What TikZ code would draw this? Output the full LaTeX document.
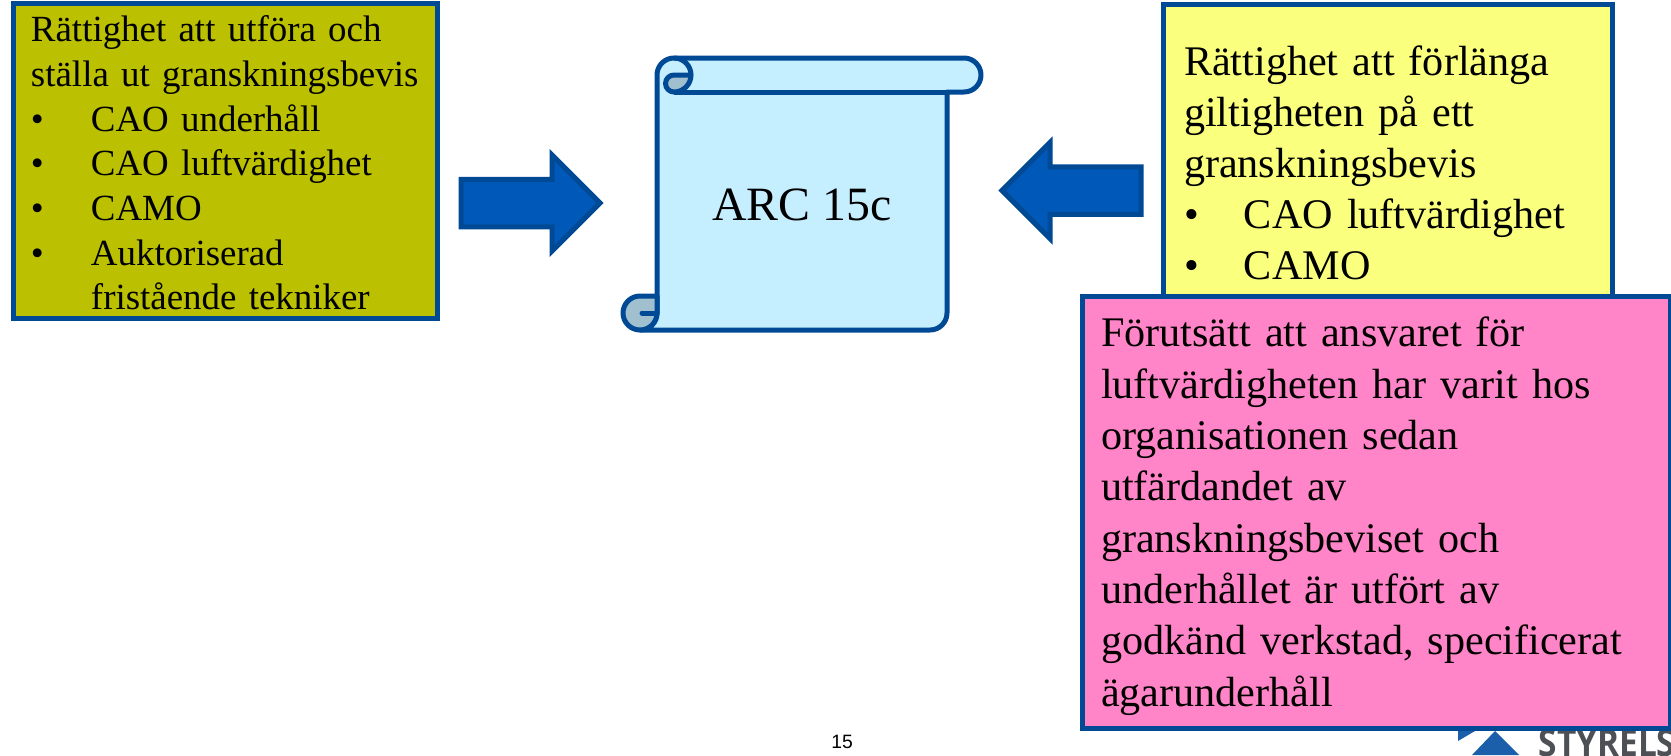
\documentclass[tikz,border=0pt]{standalone}
\usepackage{fontspec}
\usepackage{tikz}
\usetikzlibrary{shapes.arrows}
\setmainfont{Liberation Serif}
\newfontfamily\pagefont{Liberation Sans}
\newfontfamily\logofont[FakeStretch=0.88]{Open Sans}
\definecolor{edgeblue}{HTML}{004A95}
\definecolor{arrowblue}{HTML}{0059B8}
\definecolor{logoblue}{HTML}{1B5FAA}
\definecolor{logogray}{HTML}{4D5156}
\definecolor{olivebox}{HTML}{BBC000}
\definecolor{yellowbox}{HTML}{FAFF7D}
\definecolor{pinkbox}{HTML}{FF85C8}
\definecolor{scrollblue}{HTML}{C5EEFF}
\definecolor{scrollshade}{HTML}{A0BFCF}
\newcommand{\bulitem}[1]{\makebox[0.6cm][l]{\textbullet}#1}

\begin{document}
\begin{tikzpicture}[
      textbox/.style={
        draw=edgeblue,line width=0.5mm,rectangle,anchor=north west,align=left,inner ysep=0pt,outer sep=0pt
      },
      blockarrow/.style={
        draw=edgeblue,fill=arrowblue,line width=0.5mm,single arrow,anchor=tip,outer sep=0pt,
        inner sep=0.2125cm,minimum width=0.91cm,minimum height=1.39cm,single arrow head extend=0.2425cm,single arrow tip angle=90
      },
      scrollpart/.style={
        draw=edgeblue,line width=0.5mm,line join=round
      },
    ]
    \useasboundingbox (0,0) rectangle (16.71,7.55);
    \clip (0,0) rectangle (16.71,7.55);
    % logo under the pink box
    \fill[logoblue] (14.72,0) -- (14.95,0.24) -- (15.19,0) -- cycle;
    \fill[logoblue] (14.58,0.24) -- (14.75,0.24) -- (14.58,0.14) -- cycle;
    \node[anchor=north west,inner sep=0pt,text=logogray,font=\fontsize{10.8}{12}\logofont\bfseries] (logo) at (15.38,0.27) {STYRELS};
    \node[font=\fontsize{5.5}{6}\pagefont,inner sep=0pt] (pagenr) at (8.42,0.13) {15};

    \node[textbox,fill=olivebox,text width=3.88cm,inner xsep=0.18cm,minimum height=3.15cm,
      font=\fontsize{10.5}{12.7}\selectfont] (rights) at (0.13,7.515) {\rule{0pt}{8.5pt}R\"attighet att utf\"ora och\\
      st\"alla ut granskningsbevis\\
      \bulitem{CAO underh\aa ll}\\
      \bulitem{CAO luftv\"ardighet}\\
      \bulitem{CAMO}\\
      \bulitem{Auktoriserad}\\
      \hspace*{0.6cm}frist\aa ende tekniker};

    \node[blockarrow] (arrowin) at (6.00,5.52) {};
    \node[blockarrow,shape border rotate=180] (arrowext) at (10.02,5.645) {};

    % the scroll
    \draw[scrollpart,fill=scrollblue] (6.57,4.42) -- (6.57,6.80) arc (180:90:0.17) -- (9.64,6.97)
      arc (90:-90:0.17) -- (9.47,6.63) -- (9.47,4.42) arc (0:-90:0.17) -- (6.40,4.25) arc (270:360:0.17) -- cycle;
    \draw[scrollpart] (6.74,6.63) -- (9.47,6.63);
    \draw[scrollpart,fill=scrollshade] (6.91,6.80) -- (6.74,6.80) arc (90:270:0.085) arc (270:360:0.17) -- cycle;
    \draw[scrollpart] (6.74,6.97) arc (90:0:0.17);
    \draw[scrollpart,fill=scrollshade] (6.57,4.59) -- (6.40,4.59) arc (90:270:0.17) arc (270:360:0.17) -- cycle;
    \draw[scrollpart,line cap=round] (6.42,4.42) -- (6.57,4.42);
    \node[font=\fontsize{13.6}{16}\selectfont] (arc) at (8.02,5.50) {ARC 15c};

    \node[textbox,fill=yellowbox,text width=4.07cm,inner xsep=0.21cm,minimum height=3.16cm,
      font=\fontsize{12}{14.5}\selectfont] (extend) at (11.63,7.505) {R\"attighet att f\"orl\"anga\\
      giltigheten p\aa{} ett\\
      granskningsbevis\\
      \bulitem{CAO luftv\"ardighet}\\
      \bulitem{CAMO}};

    \node[textbox,fill=pinkbox,text width=5.5cm,inner xsep=0.19cm,minimum height=4.325cm,
      font=\fontsize{12}{14.6}\selectfont] (cond) at (10.82,4.59) {\rule{0pt}{10.7pt}F\"oruts\"att att ansvaret f\"or\\
      luftv\"ardigheten har varit hos\\
      organisationen sedan\\
      utf\"ardandet av\\
      granskningsbeviset och\\
      underh\aa llet \"ar utf\"ort av\\
      godk\"and verkstad, specificerat\\
      \"agarunderh\aa ll};
  \end{tikzpicture}
\end{document}
